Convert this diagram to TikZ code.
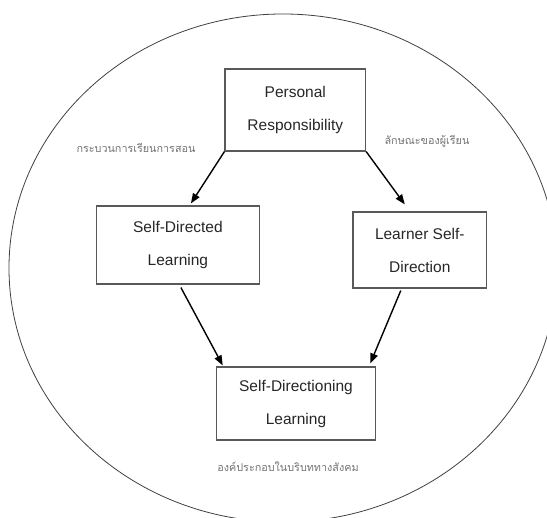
\documentclass[tikz,border=0pt]{standalone}
\usepackage{fontspec}
\setmainfont{Liberation Sans}
\newfontfamily\thaifont[Script=Thai]{Loma}
\usetikzlibrary{arrows.meta}

\tikzset{
  casella/.style={draw=black!65, line width=1.1pt, text=black!85, align=center,
    inner sep=0pt, font=\fontsize{15.5}{33}\selectfont},
  freccia/.style={-{Triangle[length=10pt,width=7.5pt]}, line width=1.4pt},
  etichetta/.style={text=black!55, inner sep=0pt, font=\thaifont\fontsize{10.8}{12}\selectfont}
}

\begin{document}
\begin{tikzpicture}[x=1pt,y=-1pt]

% Cornice della figura
\useasboundingbox (0,0) rectangle (547,518);
\clip (0,0) rectangle (547,518);

% Parametri ellisse
\def\cx{283}  % centro x
\def\cy{268}  % centro y

% Ellisse esterna
\draw[black!75, line width=0.8pt] (\cx,\cy) ellipse (274pt and 254pt);

% Caselle
\node[casella, minimum width=140.6pt, minimum height=82pt] (pr) at (295.3,110) {Personal\\Responsibility};
\node[casella, minimum width=162.6pt, minimum height=78pt] (sdl) at (177.9,245) {Self-Directed\\Learning};
\node[casella, minimum width=133.6pt, minimum height=76pt] (lsd) at (419.8,250) {Learner Self-\\Direction};
\node[casella, minimum width=159.4pt, minimum height=73pt] (sdll) at (296,403.5) {Self-Directioning\\Learning};

% Etichette in thai
\node[etichetta] (processo) at (136,148) {กระบวนการเรียนการสอน};
\node[etichetta] (allievo) at (427,141) {ลักษณะของผู้เรียน};
\node[etichetta] (contesto) at (288,467) {องค์ประกอบในบริบททางสังคม};

% Frecce
\draw[freccia] (pr.south west) -- ([xshift=13pt,yshift=2pt]sdl.north);
\draw[freccia] (pr.south east) -- ([xshift=-15pt,yshift=7pt]lsd.north);
\draw[freccia] ([xshift=3pt,yshift=-3pt]sdl.south) -- ([xshift=7pt,yshift=1pt]sdll.north west);
\draw[freccia] ([xshift=-19pt,yshift=-2pt]lsd.south) -- ([xshift=-6pt,yshift=3pt]sdll.north east);

\end{tikzpicture}
\end{document}
